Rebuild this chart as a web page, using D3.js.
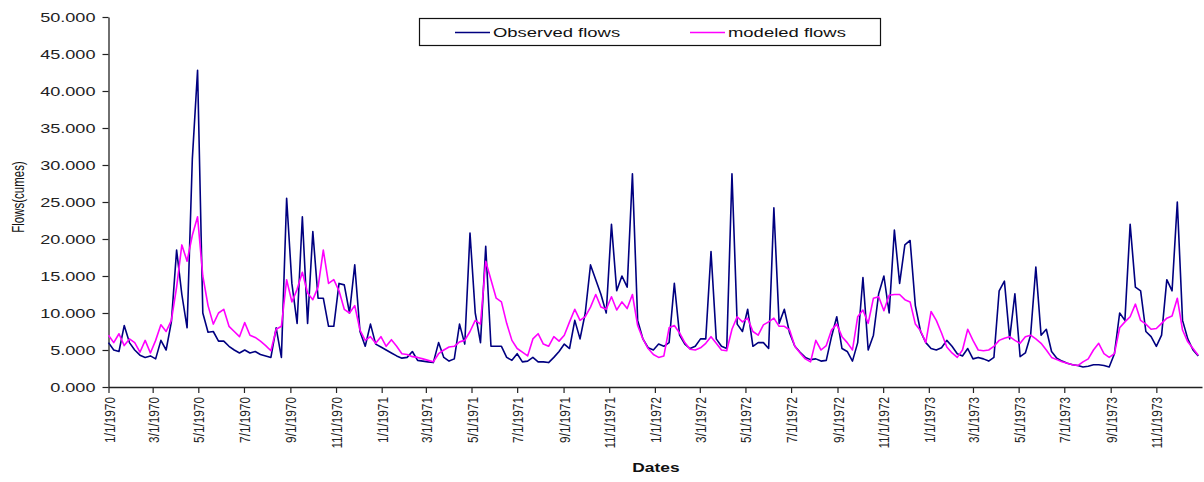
<!DOCTYPE html>
<html>
<head>
<meta charset="utf-8">
<script src="https://cdn.jsdelivr.net/npm/d3@7"></script>
<style>
  html, body { margin: 0; padding: 0; background: #fff; }
  svg { display: block; }
  text { font-family: "Liberation Sans", Arial, sans-serif; }
</style>
</head>
<body>
<svg id="chart" width="1204" height="482"></svg>
<script>
// ---- data (weekly samples starting 1/1/1970) ----
const startDate = "1/1/1970";
const stepDays = 7;

const observedFlows = [
  6.0, 5.0, 4.8, 8.3, 6.0, 5.0, 4.3, 4.0, 4.2, 3.8,
  6.3, 5.0, 8.8, 18.5, 12.5, 8.0, 30.8, 42.8, 10.0, 7.4,
  7.5, 6.2, 6.2, 5.5, 5.0, 4.6, 5.0, 4.6, 4.8, 4.4,
  4.2, 4.0, 8.0, 4.0, 25.5, 14.0, 8.6, 23.0, 8.6, 21.0,
  12.0, 12.0, 8.2, 8.2, 14.0, 13.8, 10.0, 16.5, 7.5, 5.5,
  8.5, 5.8, 5.4, 5.0, 4.6, 4.2, 3.9, 4.0, 4.8, 3.6,
  3.5, 3.4, 3.3, 6.0, 4.0, 3.5, 3.8, 8.5, 5.8, 20.8,
  10.0, 6.0, 19.0, 5.5, 5.5, 5.5, 4.0, 3.6, 4.5, 3.4,
  3.5, 4.0, 3.4, 3.4, 3.3, 4.0, 4.8, 5.8, 5.2, 9.0,
  6.5, 10.0, 16.5, 14.5, 12.5, 10.0, 22.0, 13.0, 15.0, 13.5,
  28.8, 9.0, 6.5, 5.3, 5.0, 5.8, 5.5, 6.0, 14.0, 7.0,
  5.8, 5.2, 5.5, 6.5, 6.5, 18.3, 6.5, 5.5, 5.2, 28.8,
  8.5, 7.5, 10.5, 5.5, 6.0, 6.0, 5.2, 24.2, 8.6, 10.5,
  7.3, 5.5, 4.7, 4.0, 3.7, 3.8, 3.5, 3.6, 6.8, 9.5,
  5.2, 4.8, 3.5, 6.0, 14.8, 5.0, 7.0, 12.6, 15.0, 10.0,
  21.2, 14.0, 19.2, 19.8, 11.0, 7.5, 6.0, 5.2, 5.0, 5.3,
  6.3, 5.5, 4.5, 4.2, 5.2, 3.8, 4.0, 3.8, 3.5, 4.0,
  13.0, 14.3, 6.5, 12.6, 4.1, 4.6, 7.0, 16.2, 7.0, 7.8,
  4.8, 3.9, 3.5, 3.2, 3.0, 2.9, 2.7, 2.8, 3.0, 3.0,
  2.9, 2.7, 4.5, 10.0, 9.0, 22.0, 13.5, 13.0, 7.5, 6.8,
  5.5, 7.0, 14.5, 13.0, 25.0, 9.0, 6.5, 5.0, 4.2
];

const modeledFlows = [
  7.0, 6.0, 7.2, 5.6, 6.5, 6.0, 4.7, 6.3, 4.6, 6.3,
  8.4, 7.5, 9.0, 13.5, 19.2, 17.0, 20.5, 23.0, 15.0, 11.0,
  8.5, 10.0, 10.5, 8.2, 7.5, 6.8, 8.7, 7.0, 6.7, 6.2,
  5.6, 4.9, 7.8, 8.2, 14.5, 11.5, 13.2, 15.5, 12.7, 11.8,
  13.5, 18.5, 14.0, 14.5, 13.0, 10.5, 10.0, 11.0, 7.7, 6.3,
  6.8, 5.9, 6.8, 5.5, 6.4, 5.5, 4.5, 4.4, 4.1, 4.0,
  3.8, 3.6, 3.4, 4.5, 5.0, 5.4, 5.5, 6.1, 6.3, 7.5,
  9.0, 8.5, 17.0, 14.5, 12.0, 11.5, 8.6, 6.3, 5.2, 4.7,
  4.2, 6.5, 7.2, 5.8, 5.5, 6.8, 6.2, 7.0, 8.8, 10.5,
  9.0, 9.5, 10.8, 12.5, 10.8, 10.5, 12.2, 10.4, 11.5, 10.6,
  12.5, 8.3, 6.5, 5.2, 4.4, 4.0, 4.2, 8.0, 8.3, 7.3,
  6.0, 5.1, 5.0, 5.3, 5.9, 6.8, 5.9, 5.0, 4.9, 7.8,
  9.5, 8.8, 9.3, 7.5, 7.0, 8.4, 8.8, 9.3, 8.2, 8.2,
  7.7, 5.5, 4.6, 3.8, 3.4, 6.3, 5.0, 5.6, 7.7, 8.5,
  6.8, 6.0, 5.0, 9.5, 10.4, 8.6, 12.0, 12.2, 10.3, 12.4,
  12.5, 12.5, 11.8, 11.5, 8.5, 7.6, 6.0, 10.2, 9.0, 7.3,
  5.4, 4.6, 4.0, 5.0, 7.8, 6.3, 5.0, 4.9, 5.0, 5.5,
  6.3, 6.6, 6.8, 6.3, 5.9, 6.8, 7.0, 6.5, 5.9, 5.0,
  4.0, 3.7, 3.4, 3.2, 3.0, 2.9, 3.4, 3.8, 5.0, 5.9,
  4.5, 4.0, 4.5, 8.0, 8.8, 9.5, 11.2, 9.0, 8.5, 7.8,
  7.9, 8.6, 9.3, 9.6, 12.0, 7.7, 6.1, 5.2, 4.3
];

const xTickLabels = [
  "1/1/1970", "3/1/1970", "5/1/1970", "7/1/1970", "9/1/1970", "11/1/1970",
  "1/1/1971", "3/1/1971", "5/1/1971", "7/1/1971", "9/1/1971", "11/1/1971",
  "1/1/1972", "3/1/1972", "5/1/1972", "7/1/1972", "9/1/1972", "11/1/1972",
  "1/1/1973", "3/1/1973", "5/1/1973", "7/1/1973", "9/1/1973", "11/1/1973"
];
const xDomainLabels = ["1/1/1970", "1/1/1974"];
const yTicks = [0, 5, 10, 15, 20, 25, 30, 35, 40, 45, 50];

const seriesNames = ["Observed flows", "modeled flows"];
const seriesColors = ["#000080", "#ff00ff"];

// ---- build ----
const parse = d3.utcParse("%m/%d/%Y");
const t0 = parse(startDate);
const dates = observedFlows.map((_, i) => d3.utcDay.offset(t0, i * stepDays));
const tickDates = xTickLabels.map(parse);

const svg = d3.select("#chart");
const x = d3.scaleUtc().domain(xDomainLabels.map(parse)).range([108.5, 1202]);
const y = d3.scaleLinear().domain([0, 50]).range([387, 17]);

const SX = 1.45; // horizontal stretch of the original text

// y axis
const yAxis = svg.append("g")
  .attr("transform", "translate(108.5,0)")
  .call(d3.axisLeft(y).tickValues(yTicks).tickFormat(d3.format(".3f")).tickSize(6).tickSizeOuter(0));
yAxis.select(".domain").attr("stroke", "#222").attr("stroke-width", 1.3);
yAxis.selectAll(".tick line").attr("stroke", "#222").attr("stroke-width", 1.2);
yAxis.selectAll(".tick text")
  .attr("x", 0).attr("dy", "0.36em")
  .attr("transform", `translate(-13,0) scale(${SX},1)`)
  .attr("font-size", 12.5)
  .attr("fill", "#222")
  .attr("text-anchor", "end");

// x axis
const xAxis = svg.append("g")
  .attr("transform", "translate(0,387)")
  .call(d3.axisBottom(x).tickValues(tickDates).tickFormat((d, i) => xTickLabels[i]).tickSize(6).tickSizeOuter(0));
xAxis.select(".domain").attr("stroke", "#222").attr("stroke-width", 1.3);
xAxis.selectAll(".tick line").attr("stroke", "#222").attr("stroke-width", 1.2);
xAxis.selectAll(".tick text")
  .attr("x", 0).attr("y", 0).attr("dy", "0.36em")
  .attr("transform", "translate(0,10) scale(1.3,1) rotate(-90)")
  .attr("font-size", 11.8)
  .attr("fill", "#222")
  .attr("text-anchor", "end");

// axis titles
svg.append("text")
  .attr("transform", `translate(18,197) scale(${SX},1) rotate(-90)`)
  .attr("text-anchor", "middle")
  .attr("dy", "0.35em")
  .attr("font-size", 11.5)
  .attr("fill", "#111")
  .text("Flows(cumes)");

svg.append("text")
  .attr("transform", `translate(656,472) scale(${SX},1)`)
  .attr("text-anchor", "middle")
  .attr("font-size", 12)
  .attr("font-weight", "bold")
  .attr("fill", "#111")
  .text("Dates");

// lines
const line = d3.line().x((d, i) => x(dates[i])).y(d => y(d));
[observedFlows, modeledFlows].forEach((s, k) => {
  svg.append("path")
    .datum(s)
    .attr("fill", "none")
    .attr("stroke", seriesColors[k])
    .attr("stroke-width", 1.6)
    .attr("stroke-linejoin", "round")
    .attr("d", line);
});

// legend
const lg = svg.append("g");
lg.append("rect").attr("x", 419.5).attr("y", 18.5).attr("width", 461).attr("height", 27)
  .attr("fill", "#fff").attr("stroke", "#111").attr("stroke-width", 1.2);
const legendItems = [{ x1: 455, x2: 490, tx: 493 }, { x1: 690, x2: 725, tx: 728 }];
legendItems.forEach((it, k) => {
  lg.append("line").attr("x1", it.x1).attr("x2", it.x2).attr("y1", 32.5).attr("y2", 32.5)
    .attr("stroke", seriesColors[k]).attr("stroke-width", 1.6);
  lg.append("text")
    .attr("transform", `translate(${it.tx},32.5) scale(1.42,1)`)
    .attr("dy", "0.36em")
    .attr("font-size", 13)
    .attr("fill", "#111")
    .text(seriesNames[k]);
});
</script>
</body>
</html>
